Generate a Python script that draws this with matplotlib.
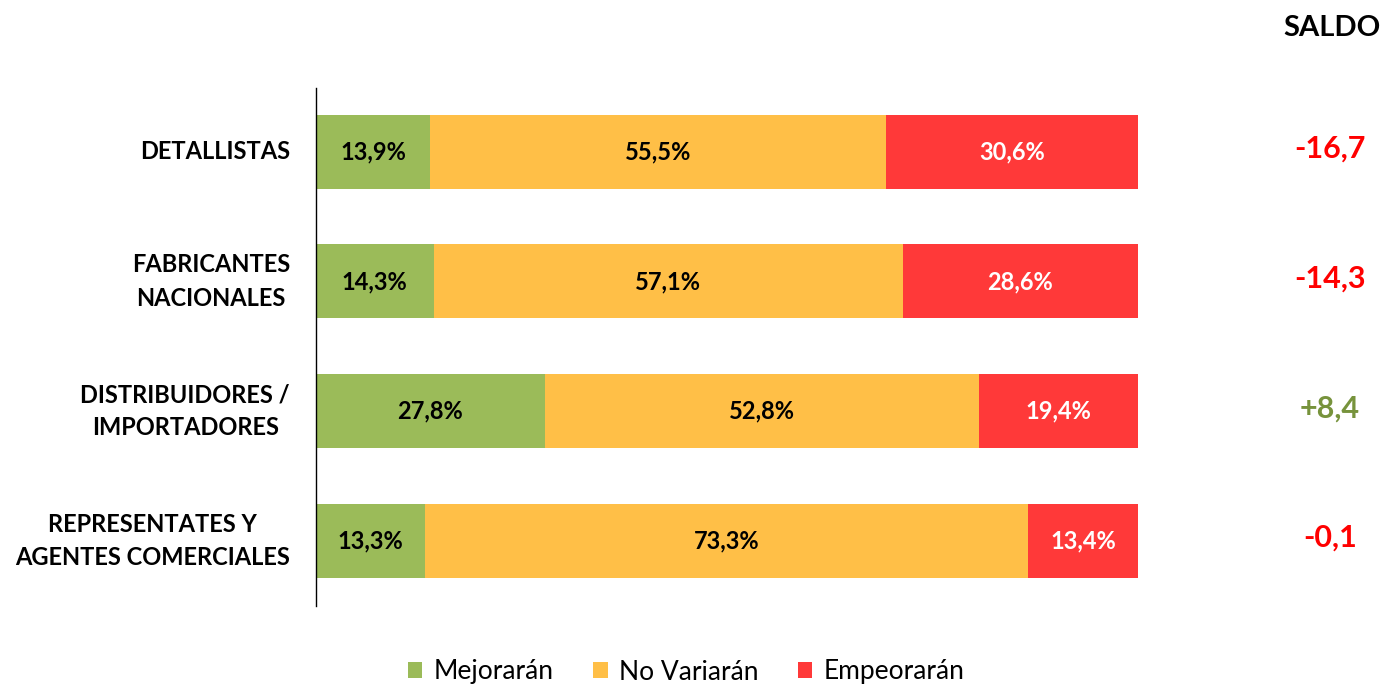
import matplotlib
matplotlib.use("Agg")
import matplotlib.pyplot as plt
from matplotlib.patches import Patch

plt.rcParams['font.family'] = ['Lato', 'DejaVu Sans']

categories = ["DETALLISTAS", "FABRICANTES\nNACIONALES", "DISTRIBUIDORES /\nIMPORTADORES",
              "REPRESENTATES Y\nAGENTES COMERCIALES"]
mejoraran = [13.9, 14.3, 27.8, 13.3]
no_variaran = [55.5, 57.1, 52.8, 73.3]
empeoraran = [30.6, 28.6, 19.4, 13.4]
series_names = ["Mejorarán", "No Variarán", "Empeorarán"]
colors = ["#9BBB59", "#FFBF47", "#FF3939"]
text_colors = ["black", "black", "white"]

W, H = 1385, 686
fig = plt.figure(figsize=(W / 100, H / 100), dpi=100)
ax = fig.add_axes([316 / W, (H - 606) / H, 822 / W, (606 - 88) / H])

y = list(range(len(categories)))
lefts = [0.0] * len(categories)
handles = []
for vals, name, col, tc in zip([mejoraran, no_variaran, empeoraran], series_names, colors, text_colors):
    bars = ax.barh(y, vals, left=lefts, height=0.57, color=col, label=name)
    for b, v in zip(bars, vals):
        ax.text(b.get_x() + b.get_width() / 2, b.get_y() + b.get_height() / 2,
                f"{v:.1f}%".replace(".", ","), ha="center", va="center",
                color=tc, fontsize=17, fontweight="bold")
    lefts = [l + v for l, v in zip(lefts, vals)]
    handles.append(Patch(facecolor=col, edgecolor="none", label=name))

ax.set_xlim(0, 100)
ax.set_ylim(len(categories) - 0.5 + 0.0, -0.49)
ax.set_xticks([])
ax.set_yticks([])
for s in ["top", "right", "bottom"]:
    ax.spines[s].set_visible(False)
ax.spines["left"].set_linewidth(1.0)
ax.spines["left"].set_color("black")

for yi, cat in zip(y, categories):
    ax.annotate(cat, xy=(0, yi), xycoords="data", xytext=(-26, 0), textcoords="offset pixels",
                ha="right", va="center", multialignment="center",
                fontsize=17, fontweight="bold", color="black", linespacing=1.55)

for yi, m, e in zip(y, mejoraran, empeoraran):
    saldo = round(m - e, 1)
    txt = (f"+{saldo:.1f}" if saldo > 0 else f"{saldo:.1f}").replace(".", ",")
    col = "#77933C" if saldo > 0 else "#FF0000"
    ax.annotate(txt, xy=(100, yi), xycoords="data", xytext=(192, 3), textcoords="offset pixels",
                ha="center", va="center", fontsize=22, fontweight="bold", color=col)

fig.text(1332 / W, 1 - 28 / H, "SALDO", ha="center", va="center", fontsize=21, fontweight="bold")

fig.legend(handles=handles, loc="center", bbox_to_anchor=(686 / W, 1 - 672 / H), ncol=3,
           frameon=False, fontsize=19, handlelength=0.55, handleheight=0.55,
           handletextpad=0.42, columnspacing=1.5)

fig.savefig("out.png", dpi=100)
